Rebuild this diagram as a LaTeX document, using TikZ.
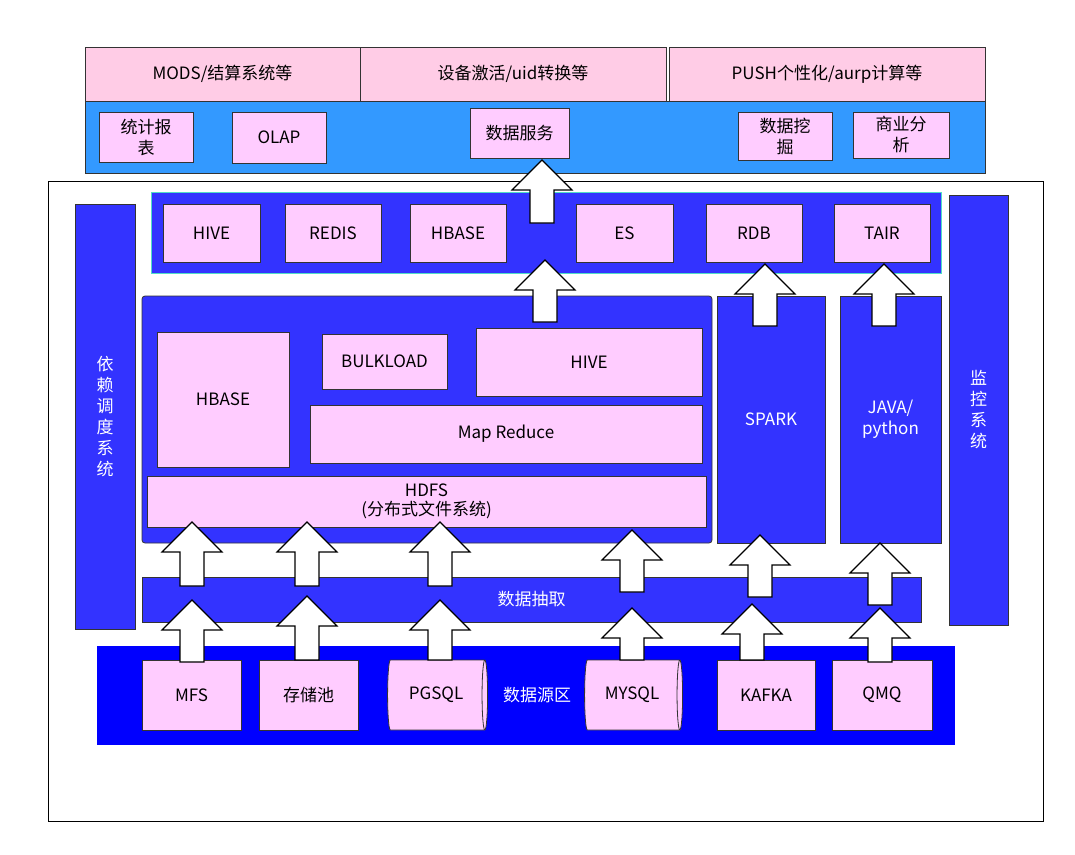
\documentclass[tikz,border=0pt]{standalone}
\usepackage{fontspec}
\setmainfont{Noto Sans CJK SC}
\usetikzlibrary{shapes.geometric}
\definecolor{pk}{HTML}{FFCCE6}
\definecolor{pb}{HTML}{FFCCFF}
\definecolor{lb}{HTML}{3399FF}
\definecolor{mb}{HTML}{3333FF}
\definecolor{db}{HTML}{0000FF}
\tikzset{
  box/.style={draw=black!80,line width=0.8pt,fill=pb,font=\fontsize{17}{21}\selectfont,align=center},
  bb/.style={draw=black!80,line width=0.8pt,fill=mb,text=white,font=\fontsize{17}{21}\selectfont,align=center},
  arr/.style={draw=black,line width=1.2pt,fill=white}
}
\newcommand\mkbox[6]{\node[#1,minimum width=#4-#2,minimum height=#5-#3,inner sep=0pt] (#6) at ({(#2+#4)/2},{(#3+#5)/2}) {};}
\newcommand\uparr[3]{\draw[arr] (#1-12,#2) -- (#1-12,#3+30) -- (#1-30,#3+30) -- (#1,#3) -- (#1+30,#3+30) -- (#1+12,#3+30) -- (#1+12,#2) -- cycle;}
\begin{document}
\begin{tikzpicture}[x=1pt,y=-1pt]
\useasboundingbox[fill=white] (0,0) rectangle (1075,854);
% top
\node[box,fill=pk,minimum width=275,minimum height=54] (t1) at (222.5,74) {MODS/结算系统等};
\node[box,fill=pk,minimum width=306,minimum height=54] (t2) at (513,74) {设备激活/uid转换等};
\node[box,fill=pk,minimum width=316,minimum height=54] (t3) at (827,74) {PUSH个性化/aurp计算等};
\node[draw=black!80,line width=0.8pt,fill=lb,minimum width=900,minimum height=72] (band) at (535,137) {};
\node[box,minimum width=94,minimum height=50,inner sep=1pt] (a1) at (146,137) {统计报\\表};
\node[box,minimum width=94,minimum height=51] (a2) at (279,137.5) {OLAP};
\node[box,minimum width=99,minimum height=50] (a3) at (519.5,133) {数据服务};
\node[box,minimum width=94,minimum height=48,inner sep=1pt] (a4) at (785,136) {数据挖\\掘};
\node[box,minimum width=96,minimum height=46,inner sep=1pt] (a5) at (901,135) {商业分\\析};
% frame
\draw[black,line width=1pt] (48,181) rectangle (1043,821);
\node[bb,minimum width=60,minimum height=425,text width=20pt] (dep) at (105,416.5) {依\\赖\\调\\度\\系\\统};
\node[bb,minimum width=59,minimum height=430,text width=20pt] (mon) at (978.5,410) {监\\控\\系\\统};
% storage
\draw[draw={rgb,255:red,80;green,220;blue,200},line width=1pt,fill=mb] (151,192) rectangle (941,273);
\node[box,minimum width=97,minimum height=58] (s1) at (211.5,233) {HIVE};
\node[box,minimum width=96,minimum height=58] (s2) at (333,233) {REDIS};
\node[box,minimum width=96,minimum height=58] (s3) at (458,233) {HBASE};
\node[box,minimum width=97,minimum height=58] (s4) at (624.5,233) {ES};
\node[box,minimum width=96,minimum height=58] (s5) at (754,233) {RDB};
\node[box,minimum width=96,minimum height=58] (s6) at (882,233) {TAIR};
% hadoop
\draw[draw=black!80,line width=0.8pt,fill=mb,rounded corners=3pt] (142,296) rectangle (712,543);
\node[box,minimum width=132,minimum height=135] (h1) at (223,399.5) {HBASE};
\node[box,minimum width=125,minimum height=55] (h2) at (384.5,361.5) {BULKLOAD};
\node[box,minimum width=226,minimum height=68] (h3) at (589,362) {HIVE};
\node[box,minimum width=392,minimum height=58] (h4) at (506,434) {Map Reduce};
\node[box,minimum width=559,minimum height=51,inner sep=0pt,font=\fontsize{17}{19}\selectfont] (h5) at (426.5,501.5) {HDFS\\(分布式文件系统)};
\node[bb,minimum width=108,minimum height=247] (sp) at (771,419.5) {SPARK};
\node[bb,minimum width=101,minimum height=247] (jv) at (890.5,419.5) {JAVA/\\python};
% extraction
\node[bb,minimum width=779,minimum height=45] (ex) at (531.5,599.5) {数据抽取};
% sources
\node[fill=db,minimum width=858,minimum height=99,inner sep=0pt] (src) at (526,695.5) {};
\node[text=white,font=\fontsize{17}{21}\selectfont] (srcl) at (537,695) {数据源区};
\node[box,minimum width=99,minimum height=70] (m1) at (191.5,695) {MFS};
\node[box,minimum width=99,minimum height=70] (m2) at (308.5,695) {存储池};
\node[box,cylinder,shape aspect=0.35,minimum width=70,minimum height=100,inner sep=0pt,shape border rotate=0] (m3) at (436,695) {PGSQL};
\node[box,cylinder,shape aspect=0.35,minimum width=70,minimum height=98,inner sep=0pt,shape border rotate=0] (m4) at (632,695) {MYSQL};
\node[box,minimum width=98,minimum height=70] (m5) at (766,695) {KAFKA};
\node[box,minimum width=100,minimum height=70] (m6) at (882,695) {QMQ};
% arrows
\uparr{542}{223}{160}
\uparr{545}{322}{260}
\uparr{765}{326}{264}
\uparr{884}{326}{264}
\uparr{192}{586}{522}
\uparr{307}{586}{522}
\uparr{440}{586}{522}
\uparr{632}{592}{530}
\uparr{760}{597}{535}
\uparr{880}{605}{543}
\uparr{192}{662}{600}
\uparr{307}{660}{596}
\uparr{440}{660}{600}
\uparr{632}{660}{608}
\uparr{752}{660}{604}
\uparr{880}{662}{608}
\end{tikzpicture}
\end{document}
